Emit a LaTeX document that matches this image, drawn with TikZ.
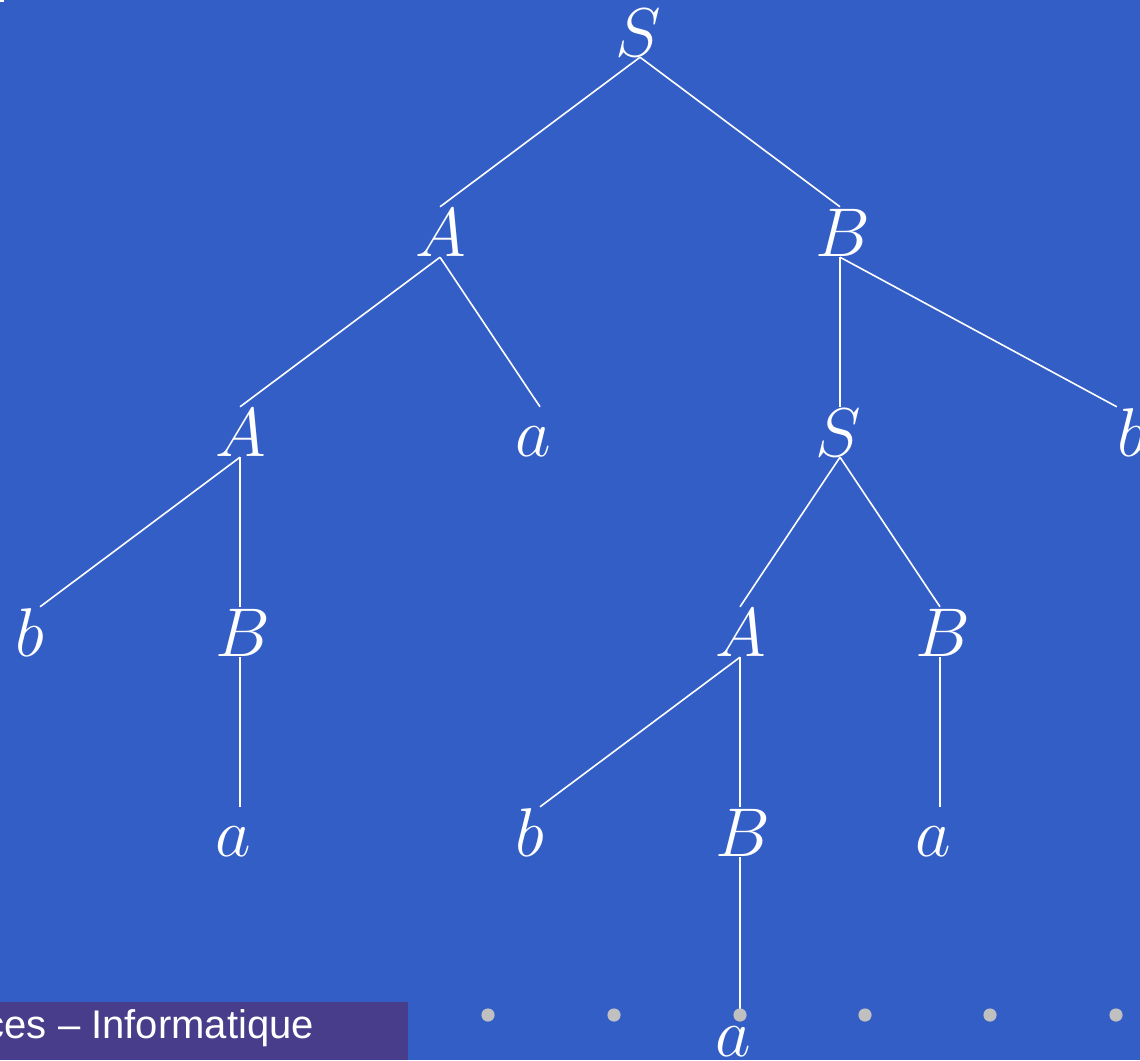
\RequirePackage{fix-cm}
\documentclass[tikz,border=0pt]{standalone}
\usepackage{fontspec}
\newfontfamily\barfont{Liberation Sans}
\definecolor{bgblue}{RGB}{51,94,198}
\definecolor{barpurple}{RGB}{72,61,139}
\definecolor{dotgray}{RGB}{192,192,192}
\begin{document}
\begin{tikzpicture}[x=1pt,y=-1pt,
  sym/.style={font=\fontsize{69}{69}\selectfont, text=white, inner sep=0pt,
    text width=50pt, align=left, text height=49pt, text depth=1pt},
  edge/.style={draw=white, line width=1.6pt},
  navdot/.style={fill=dotgray, draw=none},
  bar/.style={fill=barpurple, draw=none}]
\useasboundingbox (0,0) rectangle (1140,1060);
\fill[bgblue] (0,0) rectangle (1140,1060);
\fill[white] (0,0) rectangle (4,2);
% level 0
\node[sym] (S0) at (640,32) {$S$};
% level 1
\node[sym] (A1) at (440,232) {$A$};
\node[sym] (B1) at (840,232) {$B$};
% level 2
\node[sym] (A2) at (240,432) {$A$};
\node[sym] (a2) at (540,432) {$a$};
\node[sym] (S2) at (840,432) {$S$};
\node[sym] (b2) at (1142,432) {$b$};
% level 3
\node[sym] (b3) at (40,632) {$b$};
\node[sym] (B3) at (240,632) {$B$};
\node[sym] (A3) at (740,632) {$A$};
\node[sym] (B3r) at (940,632) {$B$};
% level 4
\node[sym] (a4) at (240,832) {$a$};
\node[sym] (b4) at (540,832) {$b$};
\node[sym] (B4) at (740,832) {$B$};
\node[sym] (a4r) at (940,832) {$a$};
% level 5
\node[sym] (a5) at (740,1032) {$a$};
% edges
\draw[edge] (S0.south) -- (A1.north);
\draw[edge] (S0.south) -- (B1.north);
\draw[edge] (A1.south) -- (A2.north);
\draw[edge] (A1.south) -- (a2.north);
\draw[edge] (B1.south) -- (S2.north);
\draw[edge] (B1.south) -- (b2.north west);
\draw[edge] (A2.south) -- (b3.north);
\draw[edge] (A2.south) -- (B3.north);
\draw[edge] (S2.south) -- (A3.north);
\draw[edge] (S2.south) -- (B3r.north);
\draw[edge] (B3.south) -- (a4.north);
\draw[edge] (A3.south) -- (b4.north);
\draw[edge] (A3.south) -- (B4.north);
\draw[edge] (B3r.south) -- (a4r.north);
\draw[edge] (B4.south) -- ([yshift=-5pt]a5.north);
% footer bar
\fill[bar] (0,1002) rectangle (408,1060);
\node[anchor=base east, inner sep=0pt, text=white, font=\barfont\fontsize{40}{40}\selectfont] (bartext) at (314,1038) {ces – Informatique};
% navigation dots
\foreach \x/\n in {488/d1,614/d2,740/d3,865/d4,990/d5,1116/d6}
  \fill[navdot] (\x,1015) circle (6.6);
\end{tikzpicture}
\end{document}
